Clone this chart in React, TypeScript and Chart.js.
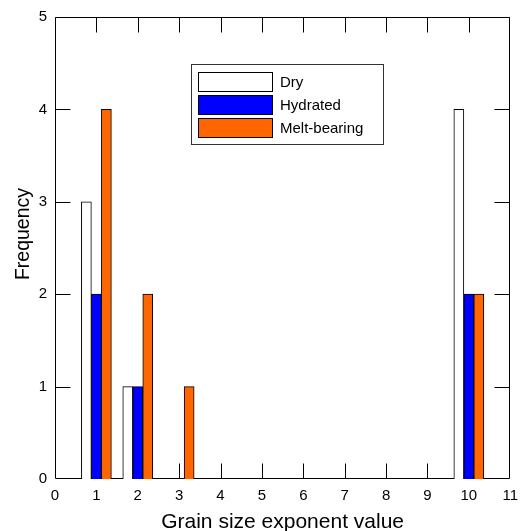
import React, { useEffect, useRef } from 'react';
import { Chart, registerables } from 'chart.js';
Chart.register(...registerables);

const xValues = [1, 2, 3, 4, 5, 6, 7, 8, 9, 10];
const dry = [3, 1, 0, 0, 0, 0, 0, 0, 0, 4];
const hydrated = [2, 1, 0, 0, 0, 0, 0, 0, 0, 2];
const meltBearing = [4, 2, 1, 0, 0, 0, 0, 0, 0, 2];
const seriesNames = ['Dry', 'Hydrated', 'Melt-bearing'];
const seriesColors = ['#FFFFFF', '#0000FF', '#FF6600'];
const xTickValues = [0, 1, 2, 3, 4, 5, 6, 7, 8, 9, 10, 11];
const yTickValues = [0, 1, 2, 3, 4, 5];
const xTitle = 'Grain size exponent value';
const yTitle = 'Frequency';

const FONT = 'Arial, "Liberation Sans", sans-serif';

const framePlugin = {
  id: 'frame',
  beforeDatasetsDraw(chart: any) {
    const { ctx, chartArea: a, scales } = chart;
    ctx.save();
    ctx.strokeStyle = '#000';
    ctx.lineWidth = 1;
    const L = Math.round(a.left) + 0.5;
    const R = Math.round(a.right) - 0.5;
    const T = Math.round(a.top) + 0.5;
    const B = Math.round(a.bottom) - 0.5;
    ctx.beginPath();
    ctx.rect(L, T, R - L, B - T);
    ctx.stroke();
    const tl = 15;
    ctx.beginPath();
    for (const v of xTickValues) {
      if (v === xTickValues[0] || v === xTickValues[xTickValues.length - 1]) continue;
      const px = Math.round(scales.x.getPixelForValue(v)) + 0.5;
      ctx.moveTo(px, B); ctx.lineTo(px, B - tl);
      ctx.moveTo(px, T); ctx.lineTo(px, T + tl);
    }
    for (const v of yTickValues) {
      if (v === yTickValues[0]) continue;
      const py = Math.round(scales.y.getPixelForValue(v)) + 0.5;
      ctx.moveTo(L, py); ctx.lineTo(L + tl, py);
      ctx.moveTo(R, py); ctx.lineTo(R - tl, py);
    }
    ctx.stroke();
    ctx.restore();
  },
  afterDraw(chart: any) {
    const { ctx, chartArea: a } = chart;
    ctx.save();
    // axis titles
    ctx.fillStyle = '#000';
    ctx.font = `21px ${FONT}`;
    ctx.textAlign = 'center';
    ctx.textBaseline = 'alphabetic';
    ctx.fillText(xTitle, (a.left + a.right) / 2, 528);
    ctx.save();
    ctx.font = `19.5px ${FONT}`;
    ctx.translate(29, 234);
    ctx.rotate(-Math.PI / 2);
    ctx.fillText(yTitle, 0, 0);
    ctx.restore();

    // legend
    const bx = 191.5, by = 64.5, bw = 192, bh = 80;
    ctx.fillStyle = '#fff';
    ctx.fillRect(bx, by, bw, bh);
    ctx.strokeStyle = '#333';
    ctx.lineWidth = 1;
    ctx.strokeRect(bx, by, bw, bh);
    ctx.font = `15px ${FONT}`;
    ctx.textAlign = 'left';
    ctx.textBaseline = 'middle';
    chart.data.datasets.forEach((ds: any, i: number) => {
      const sy = 72.5 + i * 23;
      ctx.fillStyle = ds.backgroundColor;
      ctx.fillRect(198.5, sy, 74, 19);
      ctx.strokeStyle = '#000';
      ctx.strokeRect(198.5, sy, 74, 19);
      ctx.fillStyle = '#000';
      ctx.fillText(ds.label, 280, sy + 10);
    });
    ctx.restore();
  },
};

export default function App() {
  const ref = useRef<HTMLCanvasElement | null>(null);
  useEffect(() => {
    if (!ref.current) return;
    const seriesData = [dry, hydrated, meltBearing];
    const chart = new Chart(ref.current, {
      type: 'bar',
      data: {
        datasets: seriesData.map((arr, i) => ({
          label: seriesNames[i],
          data: xValues.map((x, j) => ({ x, y: arr[j] })),
          backgroundColor: seriesColors[i],
          borderColor: '#000',
          borderWidth: 1,
          barThickness: 10,
        })),
      },
      options: {
        responsive: false,
        animation: false,
        layout: { padding: { left: 0, right: 8, top: 16, bottom: 0 } },
        plugins: { legend: { display: false }, tooltip: { enabled: false } },
        scales: {
          x: {
            type: 'linear',
            min: 0,
            max: 11,
            offset: false,
            grid: { display: false, drawTicks: false, offset: false },
            border: { display: false },
            ticks: {
              stepSize: 1,
              padding: 8,
              color: '#000',
              font: { family: FONT, size: 15 },
              maxRotation: 0,
              autoSkip: false,
            },
            afterFit: (s: any) => { s.height = 52; },
          },
          y: {
            type: 'linear',
            min: 0,
            max: 5,
            grid: { display: false, drawTicks: false },
            border: { display: false },
            ticks: {
              stepSize: 1,
              padding: 8,
              color: '#000',
              font: { family: FONT, size: 15 },
            },
            afterFit: (s: any) => { s.width = 55; },
          },
        },
      } as any,
      plugins: [framePlugin],
    });
    return () => chart.destroy();
  }, []);
  return (
    <div style={{ position: 'absolute', left: 0, top: 0, width: 526, height: 531 }}>
      <canvas ref={ref} width={526} height={531} style={{ display: 'block' }} />
    </div>
  );
}
